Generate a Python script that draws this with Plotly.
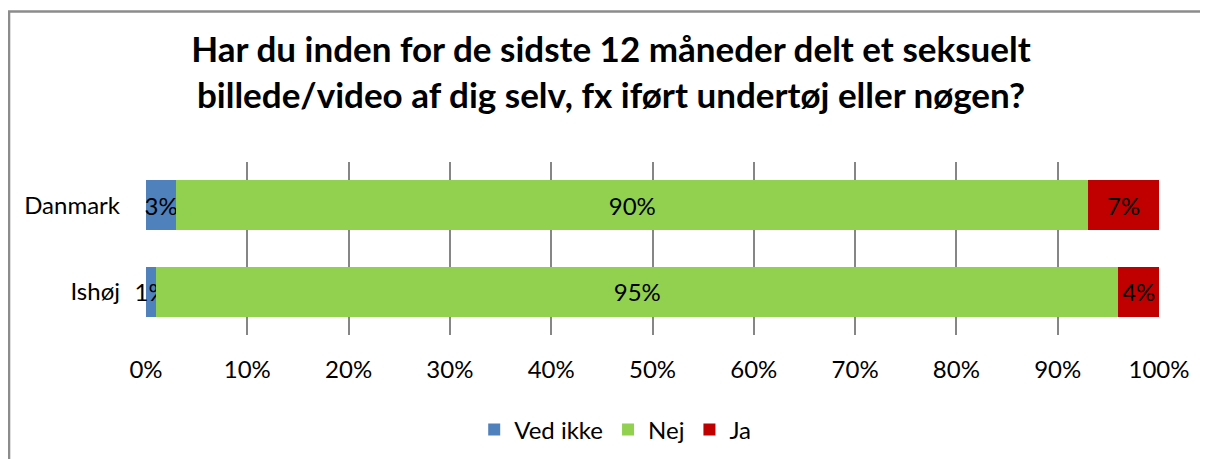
import plotly.graph_objects as go

categories = ["Danmark", "Ishøj"]
series_names = ["Ved ikke", "Nej", "Ja"]
ved_ikke = [3, 1]
nej = [90, 95]
ja = [7, 4]
colors = ["#4F81BD", "#92D050", "#C00000"]
x_ticks = list(range(0, 101, 10))
title_text = "Har du inden for de sidste 12 måneder delt et seksuelt<br>billede/video af dig selv, fx iført undertøj eller nøgen?"

FONT = "Lato, 'Open Sans', sans-serif"
FS = 24

fig = go.Figure()
for name, vals, col in zip(series_names, [ved_ikke, nej, ja], colors):
    fig.add_trace(go.Bar(
        y=categories, x=vals, name=name, orientation="h",
        marker=dict(color=col, line=dict(width=0)),
        text=[f"{v}%" for v in vals], textposition="inside", textangle=0,
        insidetextanchor="middle", constraintext="none", cliponaxis=False,
        textfont=dict(color="black", size=FS, family=FONT),
        hoverinfo="skip",
    ))

fig.update_layout(
    barmode="stack",
    bargap=0.42,
    width=1200, height=451,
    margin=dict(l=138, r=49, t=154, b=124, autoexpand=False),
    paper_bgcolor="white", plot_bgcolor="white",
    font=dict(family=FONT, size=FS, color="black"),
    uniformtext=dict(minsize=FS, mode="show"),
    title=dict(text=title_text, x=0.5025, xanchor="center", y=0.880, yanchor="middle",
               font=dict(family=FONT, size=35, color="black", weight="bold")),
    legend=dict(orientation="h", xref="container", yref="container",
                x=0.506, xanchor="center", y=0.0643, yanchor="middle",
                font=dict(size=FS, family=FONT), traceorder="normal",
                itemwidth=30),
    xaxis=dict(range=[0, 100], tickvals=x_ticks, ticktext=[f"{t}%" for t in x_ticks],
               showgrid=True, gridcolor="#868686", gridwidth=1.5, zeroline=False,
               showline=False, ticks="", ticklabelstandoff=18, automargin=False,
               tickfont=dict(size=FS, family=FONT)),
    yaxis=dict(categoryorder="array", categoryarray=categories[::-1],
               showgrid=False, zeroline=False, showline=False, ticks="",
               ticklabelstandoff=25, automargin=False,
               tickfont=dict(size=FS, family=FONT)),
    shapes=[dict(type="rect", xref="paper", yref="paper",
                 x0=-0.1352, x1=1.08, y0=-0.9, y1=1.870,
                 line=dict(color="#8C8C8C", width=2.5), fillcolor="rgba(0,0,0,0)",
                 layer="below")],
)

fig.write_html("out.html")
